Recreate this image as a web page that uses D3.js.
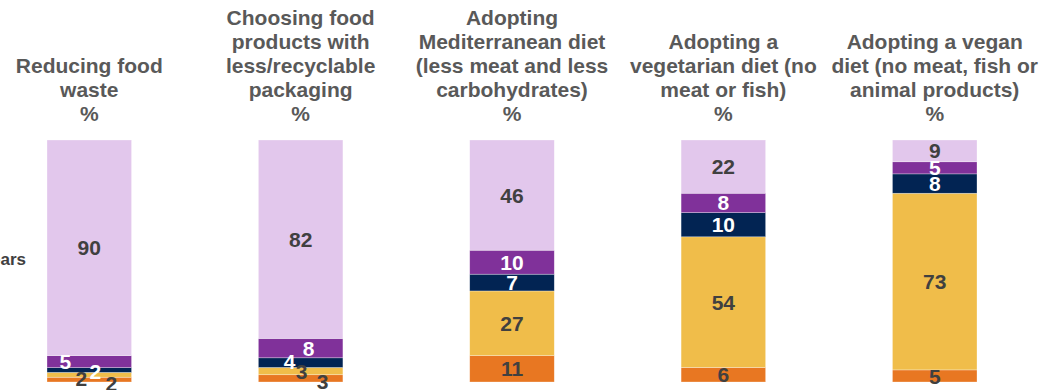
<!DOCTYPE html>
<html>
<head>
<meta charset="utf-8">
<script src="https://cdn.jsdelivr.net/npm/d3@7"></script>
<style>
  body { margin: 0; background: #fff; }
  svg { display: block; font-family: "Liberation Sans", Arial, sans-serif; }
</style>
</head>
<body>
<svg id="chart"></svg>
<script>
// categories (titles split into lines as printed)
const categories = ["waste", "packaging", "mediterranean", "vegetarian", "vegan"];
const titles = [
    ["Reducing food", "waste", "%"],
    ["Choosing food", "products with", "less/recyclable", "packaging", "%"],
    ["Adopting", "Mediterranean diet", "(less meat and less", "carbohydrates)", "%"],
    ["Adopting a", "vegetarian diet (no", "meat or fish)", "%"],
    ["Adopting a vegan", "diet (no meat, fish or", "animal products)", "%"]
];
// series, bottom to top
const seriesKeys = ["s1", "s2", "s3", "s4", "s5"];
const s1 = [2, 3, 11, 6, 5];     // orange
const s2 = [2, 3, 27, 54, 73];   // yellow
const s3 = [2, 4, 7, 10, 8];     // navy
const s4 = [5, 8, 10, 8, 5];     // purple
const s5 = [90, 82, 46, 22, 9];  // lilac
const rowLabel = "Over the next few years";

const colors = { s1: "#E87722", s2: "#F0BD4A", s3: "#022453", s4: "#80319A", s5: "#E2C7EC" };
const textColor = { s1: "#404040", s2: "#404040", s3: "#ffffff", s4: "#ffffff", s5: "#404040" };
// nudges for labels on the thin segments (category index, series) -> [dx, dy]
const nudges = {
    "0-s4": [-24, 0], "0-s3": [6, 1], "0-s2": [-8, 4], "0-s1": [22, 4],
    "1-s4": [8, 0], "1-s3": [-11, -1], "1-s2": [1, 0], "1-s1": [22, 3]
};

const width = 1045, height = 390;
const svg = d3.select("#chart").attr("width", width).attr("height", height);

const rows = categories.map((c, i) => ({
    cat: c, s1: s1[i], s2: s2[i], s3: s3[i], s4: s4[i], s5: s5[i]
}));

const stack = d3.stack().keys(seriesKeys).offset(d3.stackOffsetExpand);
const stacked = stack(rows);

const x = d3.scaleBand()
    .domain(categories)
    .range([-16.4, 1040.4])
    .paddingInner(0.6)
    .paddingOuter(0.3);

const y = d3.scaleLinear()
    .domain([0, 1])
    .range([382, 140]);

// titles
const titleG = svg.append("g");
categories.forEach((c, i) => {
    const lines = titles[i];
    const cx = x(c) + x.bandwidth() / 2;
    const t = titleG.append("text")
        .attr("text-anchor", "middle")
        .attr("font-size", 21)
        .attr("font-weight", "bold")
        .attr("fill", "#595959");
    lines.forEach((ln, j) => {
        t.append("tspan")
            .attr("x", cx)
            .attr("y", 121 - (lines.length - 1 - j) * 24)
            .text(ln);
    });
});

// row label (cut off at left edge)
svg.append("text")
    .attr("x", 26)
    .attr("y", 265)
    .attr("text-anchor", "end")
    .attr("font-size", 17)
    .attr("font-weight", "bold")
    .attr("fill", "#404040")
    .text(rowLabel);

// bars
const layers = svg.append("g").selectAll("g")
    .data(stacked)
    .join("g")
    .attr("fill", d => colors[d.key]);

layers.selectAll("rect")
    .data(d => d)
    .join("rect")
    .attr("x", d => x(d.data.cat))
    .attr("width", x.bandwidth())
    .attr("y", d => y(d[1]))
    .attr("height", d => y(d[0]) - y(d[1]))
    .attr("stroke", "#ffffff")
    .attr("stroke-opacity", 0.5)
    .attr("stroke-width", 0.6);

// value labels
const labelG = svg.append("g");
stacked.forEach(layer => {
    layer.forEach((d, i) => {
        const n = nudges[i + "-" + layer.key] || [0, 0];
        labelG.append("text")
            .attr("x", x(d.data.cat) + x.bandwidth() / 2 + n[0])
            .attr("y", (y(d[0]) + y(d[1])) / 2 + n[1])
            .attr("dy", "0.36em")
            .attr("text-anchor", "middle")
            .attr("font-size", 21)
            .attr("font-weight", "bold")
            .attr("fill", textColor[layer.key])
            .text(d.data[layer.key]);
    });
});
</script>
</body>
</html>
